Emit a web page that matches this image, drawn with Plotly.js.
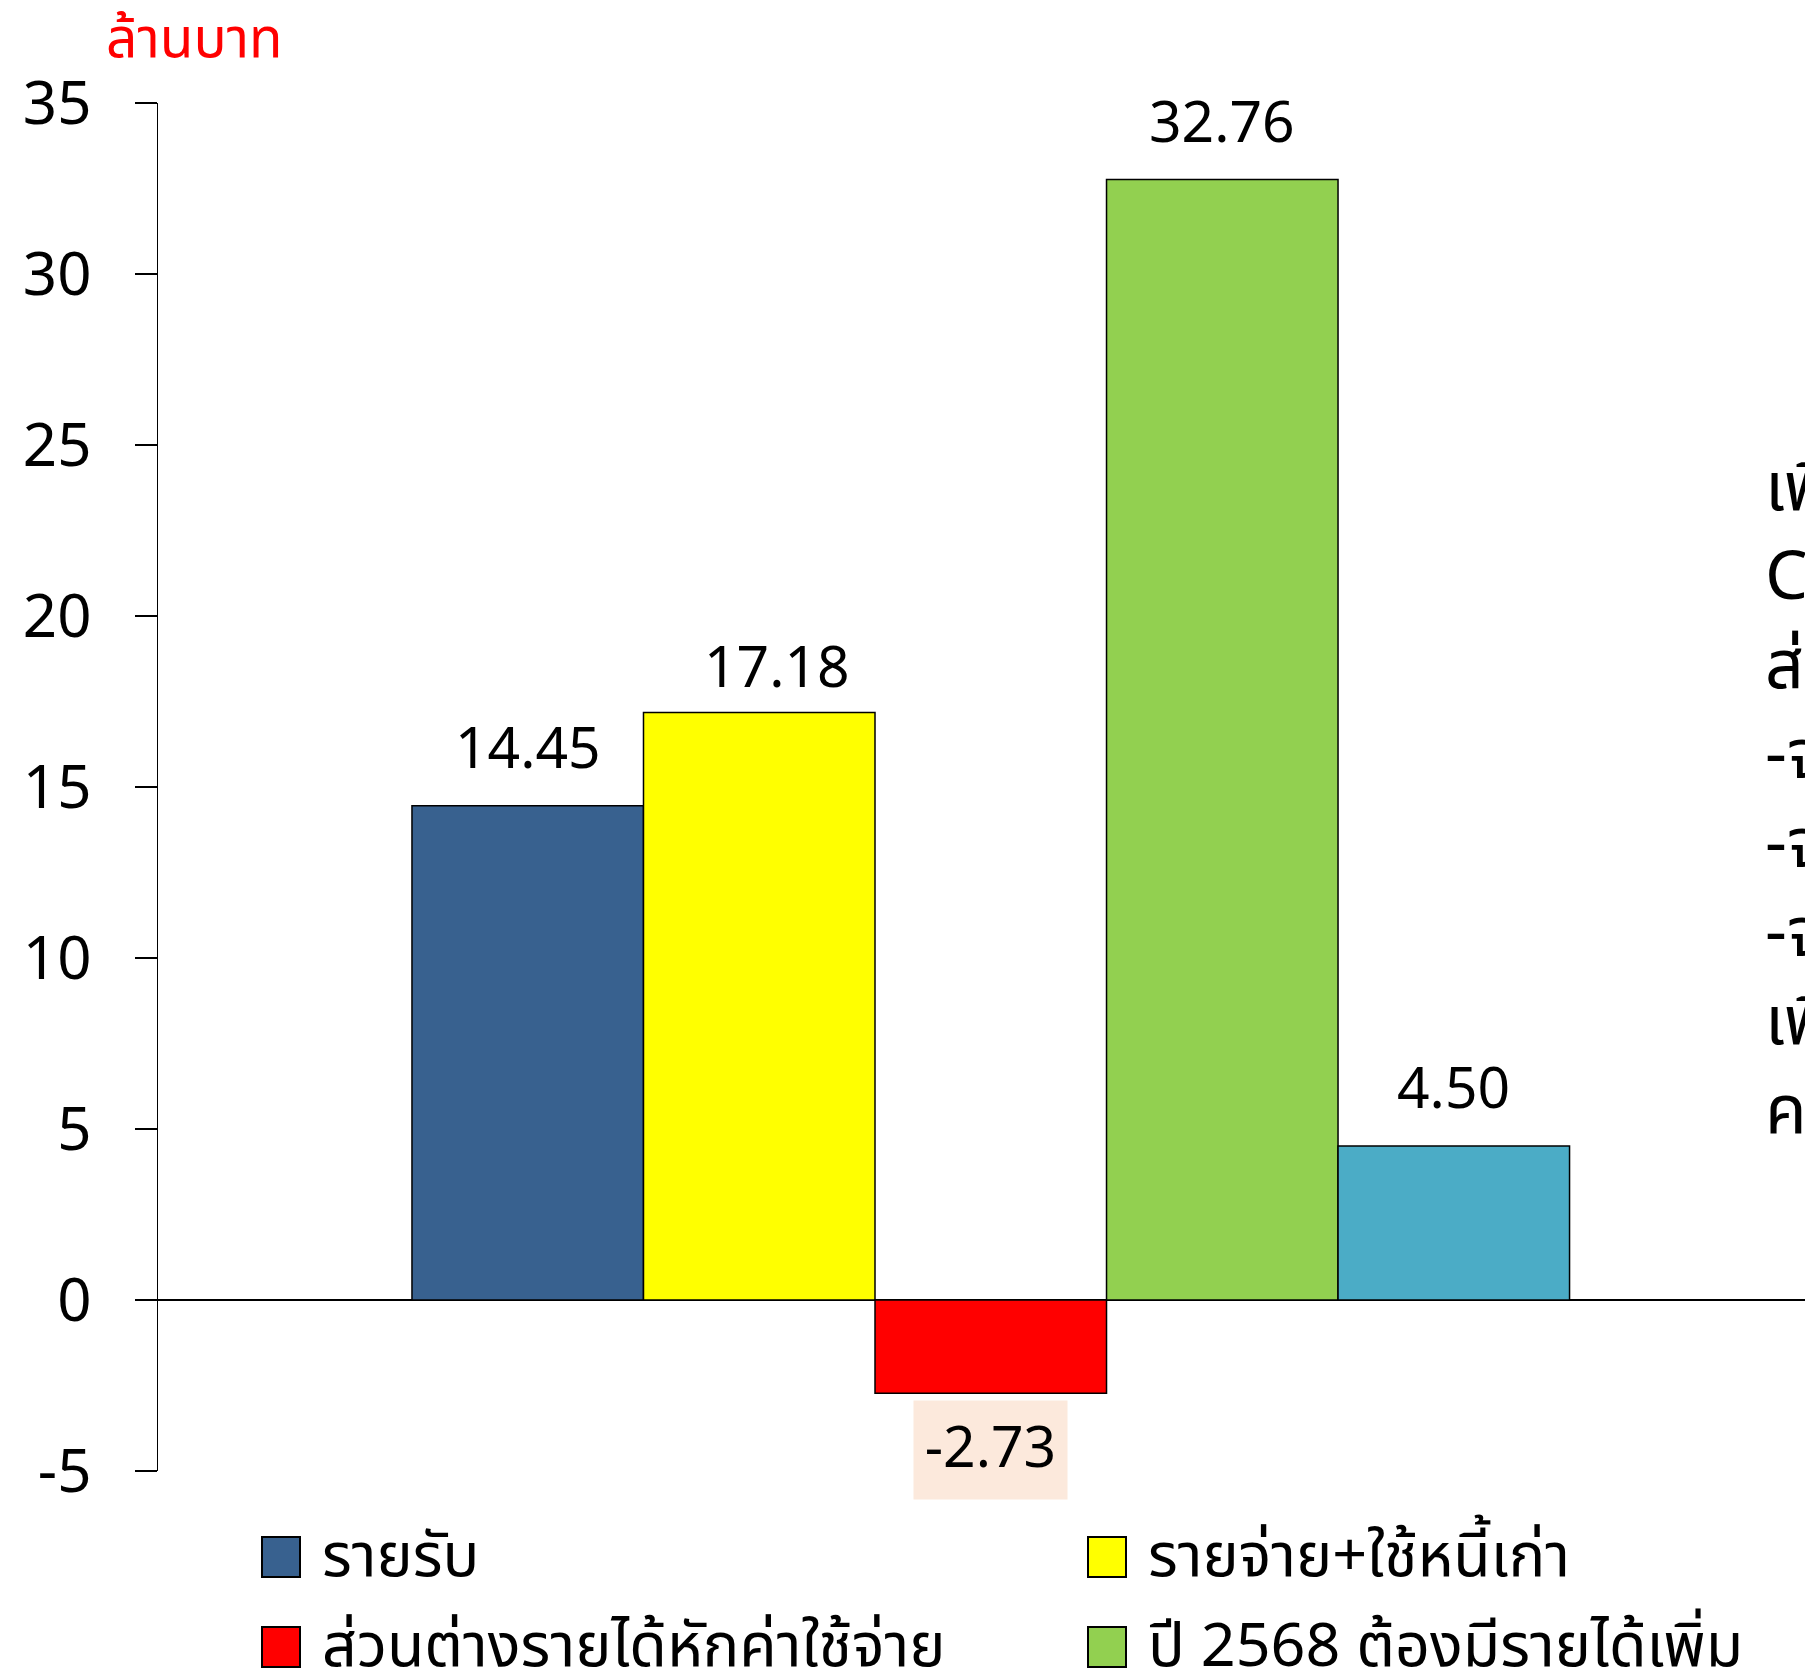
<!DOCTYPE html>
<html>
<head>
<meta charset="utf-8">
<script src="https://cdn.plot.ly/plotly-3.0.1.min.js"></script>
<style>
html,body{margin:0;padding:0;overflow:hidden;background:#fff;}
#chart{width:1805px;height:1668px;}
</style>
</head>
<body>
<div id="chart"></div>
<script>
// ---- data ----
const seriesNames = ["รายรับ", "รายจ่าย+ใช้หนี้เก่า", "ส่วนต่างรายได้หักค่าใช้จ่าย", "ปี 2568 ต้องมีรายได้เพิ่ม", ""];
const seriesValues = [14.45, 17.18, -2.73, 32.76, 4.50];
const valueLabels = ["14.45", "17.18", "-2.73", "32.76", "4.50"];
const yTicks = [-5, 0, 5, 10, 15, 20, 25, 30, 35];
const yUnit = "ล้านบาท";
const sideNote = ["เพิ่มรายได้", "Cash flow", "ส่วนต่าง", "-จ่ายหนี้", "-จ่ายดอกเบี้ย", "-จ่ายค่าใช้จ่าย", "เพิ่มรายได้", "คงเหลือ"];

// ---- styles ----
const colors = ["#38618F", "#FFFF00", "#FF0000", "#92D050", "#4BACC6"];
const FONT = "'Noto Sans Thai', 'Noto Sans', 'Noto Sans CJK SC', sans-serif";
const W = 1805, H = 1668;
const ML = 158, MR = 0, MT = 102.5, MB = 197;
const PW = W - ML - MR, PH = H - MT - MB;
const px2x = p => (p - ML) / PW;
const px2y = p => (H - MB - p) / PH;
const labelShift = [[0, 55], [18, 42], [0, -57], [0, 55], [0, 55]];
const noteTop = 489, noteStep = 89;

const traces = seriesValues.map((v, i) => ({
  type: "bar",
  name: seriesNames[i],
  x: [i],
  y: [v],
  width: [1],
  marker: {color: colors[i], line: {color: "#000", width: 1.5}},
  showlegend: false,
  hoverinfo: "name+y"
}));

const annotations = [];
seriesValues.forEach((v, i) => {
  const a = {
    x: i, y: v, xref: "x", yref: "y",
    text: valueLabels[i], showarrow: false,
    xanchor: "center", yanchor: "middle",
    xshift: labelShift[i][0], yshift: labelShift[i][1],
    font: {family: FONT, size: 57, color: "#000"}
  };
  if (v < 0) {
    a.bgcolor = "#FCE9DC";
    a.width = 151;
    a.height = 96;
  }
  annotations.push(a);
});

// unit label
annotations.push({
  xref: "paper", yref: "paper", x: px2x(194), y: px2y(39),
  text: yUnit, showarrow: false, xanchor: "center", yanchor: "middle",
  height: 66,
  font: {family: FONT, size: 55, color: "#FF0000"}
});

// side note (cut off at right edge, as in the reference)
sideNote.forEach((t, i) => {
  annotations.push({
    xref: "paper", yref: "paper", x: px2x(1763), y: px2y(noteTop + i * noteStep),
    text: t, showarrow: false, xanchor: "left", yanchor: "middle",
    align: "left", height: 84,
    font: {family: FONT, size: 68, color: "#000"}
  });
});

// custom legend (4 visible entries, 2 columns)
const shapes = [];
const legendCols = [262, 1088];
const legendRows = [1557, 1647];
for (let i = 0; i < 4; i++) {
  const cx = legendCols[i % 2];
  const cy = legendRows[Math.floor(i / 2)];
  shapes.push({
    type: "rect", xref: "paper", yref: "paper",
    x0: px2x(cx), x1: px2x(cx + 38), y0: px2y(cy - 20), y1: px2y(cy + 20),
    fillcolor: colors[i], line: {color: "#000", width: 2}
  });
  annotations.push({
    xref: "paper", yref: "paper", x: px2x(cx + 58), y: px2y(cy),
    text: seriesNames[i], showarrow: false, xanchor: "left", yanchor: "middle",
    font: {family: FONT, size: 61, color: "#000"}
  });
}

const layout = {
  width: W, height: H,
  margin: {l: ML, r: MR, t: MT, b: MB, autoexpand: false},
  paper_bgcolor: "#fff", plot_bgcolor: "#fff",
  barmode: "overlay",
  showlegend: false,
  font: {family: FONT, color: "#000"},
  xaxis: {
    range: [-1.597, 5.517], visible: true, showticklabels: false, ticks: "",
    showgrid: false, zeroline: false, showline: false, fixedrange: true
  },
  yaxis: {
    range: [-5, 35], tickvals: yTicks, ticktext: yTicks.map(String),
    showgrid: false, showline: true, linecolor: "#000", linewidth: 1.5,
    ticks: "outside", ticklen: 22, tickwidth: 1.5, tickcolor: "#000",
    ticklabelstandoff: 31,
    zeroline: true, zerolinecolor: "#000", zerolinewidth: 1.5,
    tickfont: {family: FONT, size: 60, color: "#000"}, fixedrange: true
  },
  annotations: annotations,
  shapes: shapes
};

Plotly.newPlot("chart", traces, layout, {displayModeBar: false, staticPlot: true});
</script>
</body>
</html>
